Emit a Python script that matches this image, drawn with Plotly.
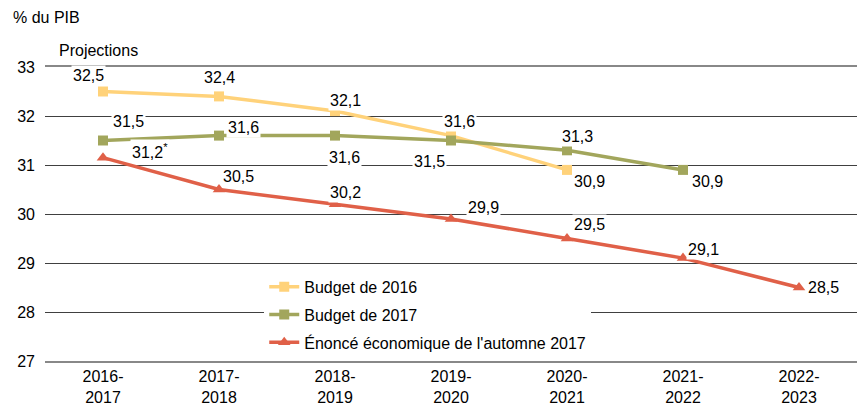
import plotly.graph_objects as go

# data
years = ["2016-<br>2017", "2017-<br>2018", "2018-<br>2019", "2019-<br>2020",
         "2020-<br>2021", "2021-<br>2022", "2022-<br>2023"]
budget_2016 = [32.5, 32.4, 32.1, 31.6, 30.9]
budget_2017 = [31.5, 31.6, 31.6, 31.5, 31.3, 30.9]
enonce_2017 = [31.15, 30.5, 30.2, 29.9, 29.5, 29.1, 28.5]
enonce_labels = ["31,2<sup>*</sup>", "30,5", "30,2", "29,9", "29,5", "29,1", "28,5"]

# label offsets in pixels (dx, dy) per point
off_2016 = [(-15, -16), (0, -19), (10, -11), (8, -14), (22, 12)]
off_2017 = [(25, -19), (24, -8), (9, 22), (-22, 21), (10, -14), (24, 12)]
off_enonce = [(47, -7), (19, -13), (10, -12), (32, -11), (22, -14), (20, -9), (24, 0)]

yellow = "#FFD27A"
green = "#A2A65C"
red = "#E06048"
font = "Liberation Sans, Arial, sans-serif"
fs = 16

fig = go.Figure()
series = [
    ("Budget de 2016", budget_2016, yellow, "square", 10),
    ("Budget de 2017", budget_2017, green, "square", 10),
    ("Énoncé économique de l'automne 2017", enonce_2017, red, "triangle-up", 11),
]
for i, (name, vals, col, sym, msize) in enumerate(series):
    fig.add_trace(go.Scatter(
        x=years[:len(vals)], y=vals, name=name, mode="lines+markers",
        line=dict(color=col, width=3.5),
        marker=dict(symbol=sym, size=msize, color=col),
        legendgroup=str(i),
    ))

def fmt(v):
    return f"{v:.1f}".replace(".", ",")

labels = [
    (budget_2016, [fmt(v) for v in budget_2016], off_2016),
    (budget_2017, [fmt(v) for v in budget_2017], off_2017),
    (enonce_2017, enonce_labels, off_enonce),
]
for vals, texts, offs in labels:
    for j, (v, t, (dx, dy)) in enumerate(zip(vals, texts, offs)):
        fig.add_annotation(
            x=years[j], y=v, text=t, showarrow=False,
            xshift=dx, yshift=-dy, bgcolor="white", borderpad=1,
            font=dict(size=fs, color="black", family=font),
        )

fig.add_annotation(x=0, y=1.0, xref="x", yref="paper", text="Projections",
                   showarrow=False, xanchor="center", yanchor="middle", yshift=17,
                   xshift=-5, font=dict(size=fs, color="black", family=font))
fig.add_annotation(x=0, y=1, xref="paper", yref="paper", text="% du PIB",
                   showarrow=False, xanchor="left", yanchor="middle", yshift=50,
                   xshift=-34, font=dict(size=fs, color="black", family=font))

# page body has an 8px margin, so the figure is sized to fit the window
fig.update_layout(
    width=859, height=410,
    margin=dict(l=37, r=10, t=59, b=57, autoexpand=False),
    paper_bgcolor="white", plot_bgcolor="white",
    font=dict(family=font, size=fs, color="black"),
    showlegend=True,
    legend=dict(
        x=0.27, y=0.31, xanchor="left", yanchor="top",
        bgcolor="white", font=dict(size=fs, family=font),
        tracegroupgap=4, itemwidth=30,
    ),
    xaxis=dict(
        range=[-0.5, 6.5], showgrid=False, ticks="", tickfont=dict(size=fs),
        showline=True, linecolor="#888888", linewidth=2, mirror=True,
        automargin=False,
    ),
    yaxis=dict(
        range=[27, 33], dtick=1, showgrid=True, gridcolor="#404040", gridwidth=1,
        zeroline=False, ticks="", tickfont=dict(size=fs), ticklabelstandoff=9,
        automargin=False,
    ),
)

fig.write_html("out.html")
